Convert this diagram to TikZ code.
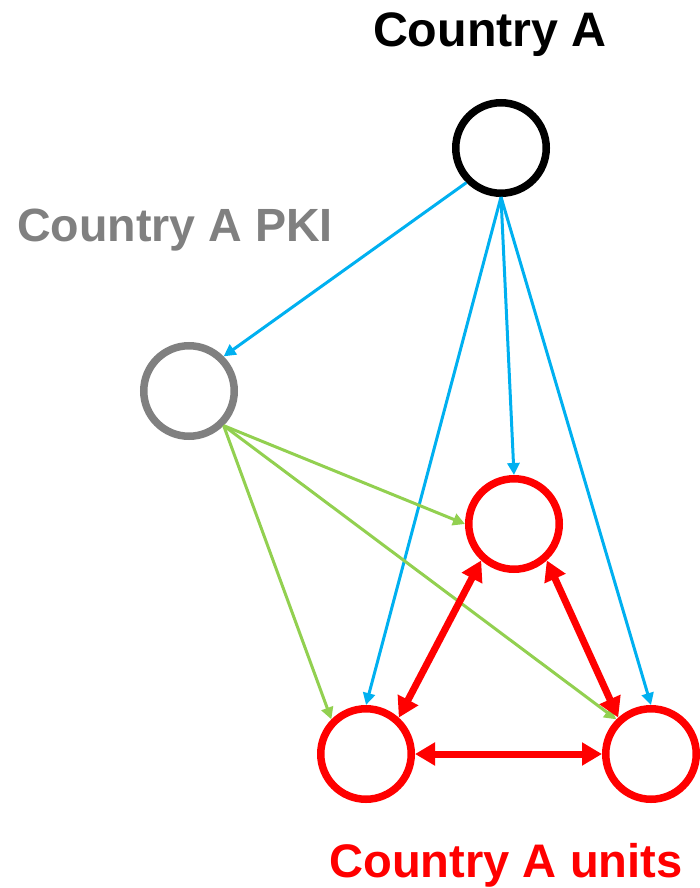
\documentclass[tikz,border=0pt]{standalone}
\usepackage{fontspec}
\setmainfont{Liberation Sans}
\usetikzlibrary{arrows.meta}
\definecolor{skyblue}{RGB}{0,176,240}
\definecolor{leafgreen}{RGB}{146,208,80}
\definecolor{pkigray}{RGB}{128,128,128}

\begin{document}
\begin{tikzpicture}[x=1pt, y=-1pt,
  ring/.style = {circle, draw, line width=7.5pt,
                 minimum size=90.5pt, inner sep=0pt},
   tag/.style = {anchor=base, inner sep=0pt, font=\bfseries},
  link/.style = {line width=3pt,
                 -{Triangle[length=12pt,width=12pt]}},
   tie/.style = {red, line width=7pt,
                 {Triangle[length=20pt,width=22pt]}-{Triangle[length=20pt,width=22pt]}},
                        ]
\useasboundingbox (0,0) rectangle (699,888);
% circles
\node[ring]                (A)   at (501,148) {};
\node[ring, draw=pkigray]  (PKI) at (189,391) {};
\node[ring, draw=red]      (U1)  at (514,524) {};
\node[ring, draw=red]      (U2)  at (366,754) {};
\node[ring, draw=red]      (U3)  at (651,754) {};
% labels
\node[tag] (tA)   at (490,47)
    {\fontsize{48.4}{52}\selectfont Country A};
\node[tag, text=pkigray] (tPKI) at (175,241)
    {\fontsize{46.6}{50}\selectfont Country A PKI};
\node[tag, text=red] (tU) at (506,877)
    {\fontsize{47.1}{51}\selectfont Country A units};
% Country A to PKI and units
\draw[link, skyblue] (A.225)   -- (PKI.45);
\draw[link, skyblue] (A.south) -- (U2.north);
\draw[link, skyblue] (A.south) -- (U1.north);
\draw[link, skyblue] (A.south) -- (U3.north);
% PKI to units
\draw[link, leafgreen] (PKI.-45) -- (U1.west);
\draw[link, leafgreen] (PKI.-45) -- (U2.135);
\draw[link, leafgreen] (PKI.-45) -- (U3.135);
% between units
\draw[tie] (U1.228) -- (U2.48);
\draw[tie] (U1.312) -- (U3.132);
\draw[tie] (U2.east) -- (U3.west);
\end{tikzpicture}
\end{document}
